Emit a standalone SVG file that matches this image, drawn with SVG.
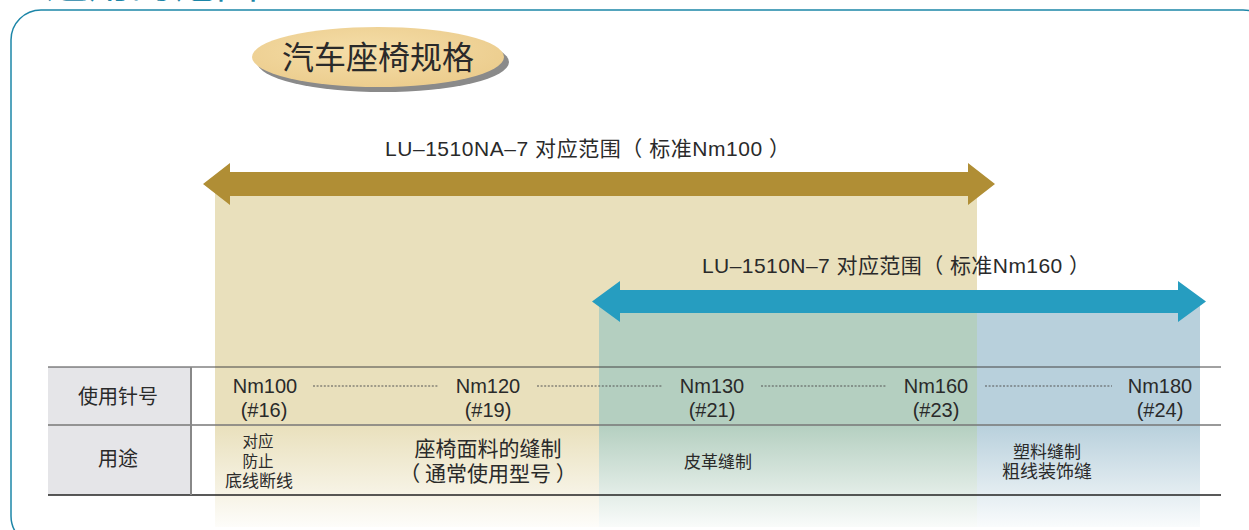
<svg xmlns="http://www.w3.org/2000/svg" width="1249" height="530" viewBox="0 0 1249 530">
<style>
.lat{font-family:"Liberation Sans","Noto Sans CJK SC",sans-serif;fill:#2a2a2a}
.cjk{font-family:"Noto Sans CJK SC",sans-serif;fill:#2a2a2a}
.dot{stroke:#555;stroke-width:1;stroke-dasharray:2 1.6;fill:none}
</style>
<defs>
<linearGradient id="gBeige" gradientUnits="userSpaceOnUse" x1="0" y1="425" x2="0" y2="527">
<stop offset="0" stop-color="#e9e0bc"/><stop offset="1" stop-color="#e9e0bc" stop-opacity="0.08"/>
</linearGradient>
<linearGradient id="gGreen" gradientUnits="userSpaceOnUse" x1="0" y1="425" x2="0" y2="527">
<stop offset="0" stop-color="#b4cfc0"/><stop offset="1" stop-color="#b4cfc0" stop-opacity="0.08"/>
</linearGradient>
<linearGradient id="gBlue" gradientUnits="userSpaceOnUse" x1="0" y1="425" x2="0" y2="527">
<stop offset="0" stop-color="#b8d0dc"/><stop offset="1" stop-color="#b8d0dc" stop-opacity="0.08"/>
</linearGradient>
<radialGradient id="gBadge" cx="0.45" cy="0.4" r="0.6">
<stop offset="0" stop-color="#f5dea9"/><stop offset="1" stop-color="#eccd8e"/>
</radialGradient>
</defs>
<rect width="1249" height="530" fill="#ffffff"/>
<g id="frame">
<text x="46" y="-2" textLength="212" style="font-family:'Noto Sans CJK SC',sans-serif;font-size:42px;fill:#1d86a8">适用的范围</text>
<rect x="11" y="10" width="1262" height="536" rx="30" ry="30" fill="none" stroke="#1d86a8" stroke-width="1.5"/>
</g>
<g id="badge">
<ellipse cx="383" cy="62" rx="126" ry="30" fill="#8a8a8a"/>
<ellipse cx="378" cy="57" rx="126" ry="30" fill="url(#gBadge)"/>
<text x="378" y="69" text-anchor="middle" class="cjk" style="font-size:32px">汽车座椅规格</text>
</g>
<g id="regions">
<rect x="215" y="190" width="384" height="337" fill="url(#gBeige)"/>
<rect x="599" y="190" width="378" height="120" fill="#e9e0bc"/>
<rect x="599" y="305" width="378" height="222" fill="url(#gGreen)"/>
<rect x="977" y="305" width="223" height="222" fill="url(#gBlue)"/>
</g>
<g id="connectors">
<polygon id="arrowNA" points="203,184 230,163 230,172 968,172 968,163 995,184 968,205 968,196 230,196 230,205" fill="#b08e35"/>
<polygon id="arrowN" points="592,301.5 620,281 620,290 1178,290 1178,281 1206,301.5 1178,322 1178,313 620,313 620,322" fill="#269dc0"/>
<line class="dot" x1="313" y1="386" x2="439" y2="386"/>
<line class="dot" x1="537" y1="386" x2="663" y2="386"/>
<line class="dot" x1="761" y1="386" x2="887" y2="386"/>
<line class="dot" x1="985" y1="386" x2="1112" y2="386"/>
</g>
<g id="labelNA">
<text x="385" y="156" textLength="405" lengthAdjust="spacing" class="lat" style="font-size:21px">LU–1510NA–7 对应范围（ 标准Nm100 ）</text>
</g>
<g id="labelN">
<text x="702" y="273" textLength="388" lengthAdjust="spacing" class="lat" style="font-size:21px">LU–1510N–7 对应范围（ 标准Nm160 ）</text>
</g>
<g id="table">
<rect x="48" y="367" width="142" height="128" fill="#e5e5e8"/>
<line x1="48" y1="367" x2="1221" y2="367" stroke="#444" stroke-width="1"/>
<line x1="48" y1="425" x2="1221" y2="425" stroke="#777" stroke-width="1.6"/>
<line x1="48" y1="495" x2="1221" y2="495" stroke="#222" stroke-width="1.4"/>
<line x1="191" y1="367" x2="191" y2="495" stroke="#888" stroke-width="2"/>
<text x="118" y="404" text-anchor="middle" class="cjk" style="font-size:20px">使用针号</text>
<text x="118" y="466" text-anchor="middle" class="cjk" style="font-size:20px">用途</text>
</g>
<g id="needles" class="lat" style="font-size:20px" text-anchor="middle">
<text x="265" y="393" class="lat">Nm100</text><text x="264" y="417" class="lat">(#16)</text>
<text x="488" y="393" class="lat">Nm120</text><text x="488" y="417" class="lat">(#19)</text>
<text x="712" y="393" class="lat">Nm130</text><text x="712" y="417" class="lat">(#21)</text>
<text x="936" y="393" class="lat">Nm160</text><text x="936" y="417" class="lat">(#23)</text>
<text x="1160" y="393" class="lat">Nm180</text><text x="1160" y="417" class="lat">(#24)</text>
</g>
<g id="uses" text-anchor="middle">
<text x="258" y="447" class="cjk" style="font-size:15.5px">对应</text>
<text x="258" y="467" class="cjk" style="font-size:15.5px">防止</text>
<text x="259" y="487" class="cjk" style="font-size:17px">底线断线</text>
<text x="488" y="456" class="cjk" style="font-size:21px">座椅面料的缝制</text>
<text x="488" y="481" class="cjk" style="font-size:21px">（ 通常使用型号 ）</text>
<text x="718" y="468" class="cjk" style="font-size:17px">皮革缝制</text>
<text x="1047" y="458" class="cjk" style="font-size:17px">塑料缝制</text>
<text x="1047" y="478" class="cjk" style="font-size:18px">粗线装饰缝</text>
</g>
</svg>
